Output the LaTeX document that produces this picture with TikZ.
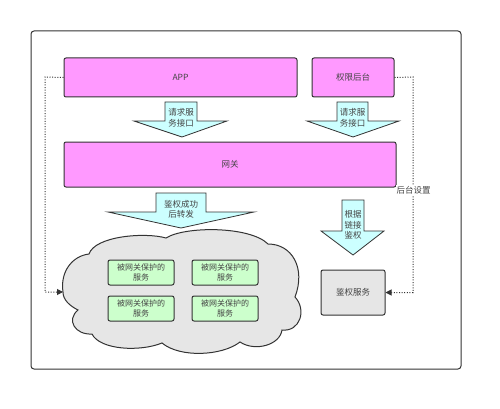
\documentclass[tikz,border=0pt]{standalone}
\usepackage{fontspec}
\setmainfont{Noto Sans CJK SC}
\usetikzlibrary{arrows.meta}
\definecolor{pinkf}{HTML}{FF99FF}
\definecolor{cyanf}{HTML}{CCFFFF}
\definecolor{greenf}{HTML}{CCFFCC}
\definecolor{grayf}{HTML}{E6E6E6}
\definecolor{edge}{HTML}{333333}
\definecolor{txt}{HTML}{444444}
\tikzset{
  box/.style={draw=edge, line width=1pt, rounded corners=2pt, inner sep=0pt, text=txt},
  pinkbox/.style={box, fill=pinkf},
  greenbox/.style={box, fill=greenf, minimum width=66pt, minimum height=25pt, align=center, font=\fontsize{8}{9.5}\selectfont},
  graybox/.style={box, fill=grayf},
  blockarrow/.style={draw=edge, line width=0.8pt, fill=cyanf, line join=miter},
  arrowtext/.style={align=center, text=txt, inner sep=0pt, font=\fontsize{8.5}{10.5}\selectfont},
  dotline/.style={draw=edge, line width=1pt, dash pattern=on 1pt off 1.6pt},
  tip/.style={-{Triangle[length=6pt,width=6pt]}}
}
\begin{document}
\begin{tikzpicture}[x=1pt,y=-1pt, font=\fontsize{8.5}{10.5}\selectfont]
\useasboundingbox (0,0) rectangle (500,409);
\fill[white] (0,0) rectangle (500,409);
\draw[draw=edge, line width=1pt, rounded corners=3pt] (31,31) rectangle (461,369);

% top boxes
\node[pinkbox, minimum width=233pt, minimum height=39pt] (app) at (180.5,77.5) {APP};
\node[pinkbox, minimum width=82pt, minimum height=39pt] (admin) at (353,77.5) {权限后台};
\node[pinkbox, minimum width=332pt, minimum height=45pt] (gw) at (230,164.5) {网关};

% block arrows
\draw[blockarrow] (165,102) -- (197,102) -- (197,121) -- (227,121) -- (182,137) -- (134,121) -- (165,121) -- cycle;
\node[arrowtext] (a1) at (181,118) {请求服\\务接口};
\draw[blockarrow] (337,102) -- (368,102) -- (368,121) -- (399,121) -- (353,137) -- (307,121) -- (337,121) -- cycle;
\node[arrowtext] (a2) at (352.5,118) {请求服\\务接口};
\draw[blockarrow] (156,193) -- (206,193) -- (206,212) -- (254,212) -- (181,228) -- (108,212) -- (156,212) -- cycle;
\node[arrowtext] (a3) at (181,209.5) {鉴权成功\\后转发};
\draw[blockarrow] (342,200) -- (364,200) -- (364,231) -- (384,231) -- (353,255) -- (321,231) -- (342,231) -- cycle;
\node[arrowtext] (a4) at (353,225) {根据\\链接\\鉴权};

% cloud
\draw[draw=edge, line width=1pt, fill=grayf]
  (63,292) .. controls (60,272) and (72,256) .. (89,254)
  .. controls (95,236) and (145,232) .. (166,238)
  .. controls (185,226) and (250,226) .. (268,244)
  .. controls (292,244) and (306,268) .. (295,297)
  .. controls (307,310) and (300,332) .. (282,330)
  .. controls (280,345) and (255,352) .. (240,342)
  .. controls (222,356) and (180,358) .. (162,343)
  .. controls (140,352) and (100,350) .. (92,334)
  .. controls (75,335) and (66,320) .. (78,310)
  .. controls (70,306) and (63,300) .. (63,292) -- cycle;
\coordinate (cloudW) at (63,292);

\node[greenbox] (s1) at (141,272.5) {被网关保护的\\服务};
\node[greenbox] (s2) at (225,272.5) {被网关保护的\\服务};
\node[greenbox] (s3) at (141,308.5) {被网关保护的\\服务};
\node[greenbox] (s4) at (225,308.5) {被网关保护的\\服务};

\node[graybox, minimum width=64pt, minimum height=45pt] (auth) at (353,292.5) {鉴权服务};

% dotted connectors
\coordinate (lc) at (45,77);
\coordinate (rc) at (413,77);
\draw[dotline, tip] (app.west) -- (lc) |- (cloudW);
\draw[dotline, tip] (admin.east) -- (rc) |- (auth.east);
\node[fill=white, text=txt, inner sep=1pt] (lbl) at (413.5,190) {后台设置};
\end{tikzpicture}
\end{document}
